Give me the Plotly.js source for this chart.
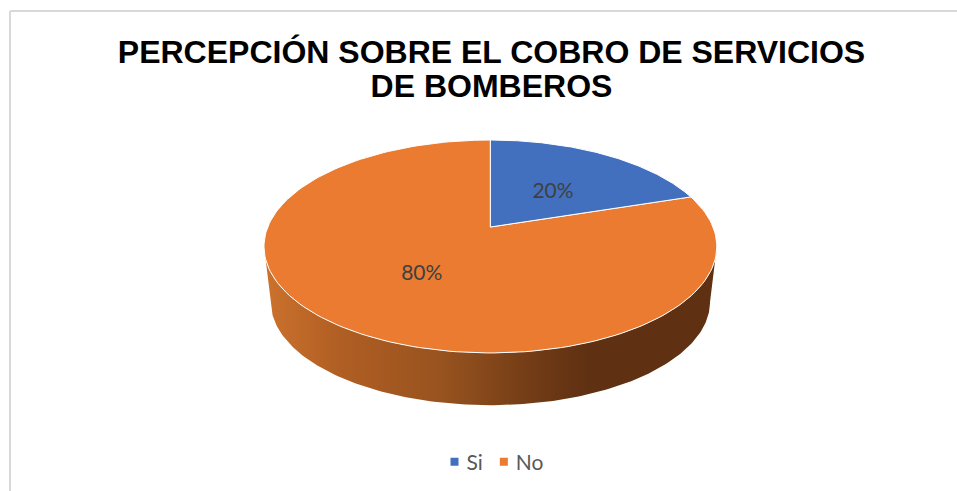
<!DOCTYPE html>
<html>
<head>
<meta charset="utf-8">
<script src="https://cdn.plot.ly/plotly-3.0.1.min.js"></script>
<style>html,body{margin:0;padding:0;background:#fff}#chart{width:957px;height:491px}</style>
</head>
<body>
<div id="chart"></div>
<script>
var titleText = 'PERCEPCIÓN SOBRE EL COBRO DE SERVICIOS<br>DE BOMBEROS';
var categories = ['Si', 'No'];
var values = [20, 80];
var sliceColors = ['#4270BF', '#EB7B31'];
var labelNudgeX = [4, -1];
var labelNudgeY = [3, 5];

// Perspective view of a tilted disc: top face and the slightly smaller bottom face
var view = {cx: 490.4, cy: 227, a: 222.6, b: 102.9, k: 0.183};
var depth = {scale: 0.97, cy: 283};
function project(theta, r, bottom) {
  var u = r * Math.sin(theta), v = r * Math.cos(theta);
  var w = 1 + view.k * v, s = bottom ? depth.scale : 1, cy = bottom ? depth.cy : view.cy;
  return [view.cx + s * view.a * u / w, cy - s * view.b * v / w];
}
function arc(from, to, bottom) {
  var pts = [], n = 180;
  for (var i = 0; i <= n; i++) pts.push(project(from + (to - from) * i / n, 1, bottom));
  return pts;
}
var total = values.reduce(function (a, b) { return a + b; }, 0);
var angle = 0, sliceTraces = [], labelX = [], labelY = [], labelText = [];
values.forEach(function (val, i) {
  var sweep = 2 * Math.PI * val / total;
  var pts = [project(0, 0)].concat(arc(angle, angle + sweep)).concat([project(0, 0)]);
  sliceTraces.push({
    type: 'scatter', mode: 'lines', fill: 'toself', fillcolor: sliceColors[i],
    x: pts.map(function (p) { return p[0]; }), y: pts.map(function (p) { return p[1]; }),
    line: {color: '#ffffff', width: 1}, showlegend: false, hoverinfo: 'skip'
  });
  var m = project(angle + sweep / 2, 0.48);
  labelX.push(m[0] + labelNudgeX[i]); labelY.push(m[1] + labelNudgeY[i]);
  labelText.push(val + '%');
  angle += sweep;
});

// Visible side wall: front half of the rim
var wStart = Math.PI * 0.5 + Math.asin(view.k), wEnd = Math.PI * 1.5 - Math.asin(view.k);
var wallPts = arc(wStart, wEnd).concat(arc(wEnd, wStart, true));
var wall = {
  type: 'scatter', mode: 'lines', fill: 'toself',
  x: wallPts.map(function (p) { return p[0]; }), y: wallPts.map(function (p) { return p[1]; }),
  line: {width: 0, color: 'rgba(0,0,0,0)'},
  fillgradient: {type: 'horizontal', colorscale: [
    [0, '#CC722D'], [0.17, '#B05E23'], [0.39, '#98531F'], [0.61, '#6F3A15'], [0.72, '#5F3012'], [1, '#5F3012']
  ]},
  showlegend: false, hoverinfo: 'skip'
};

var labels = {
  type: 'scatter', mode: 'text', x: labelX, y: labelY, text: labelText,
  textposition: 'middle center', textfont: {family: 'Lato, sans-serif', size: 21, color: '#404040'},
  showlegend: false, hoverinfo: 'skip'
};
var legendTraces = categories.map(function (c, i) {
  return {type: 'scatter', mode: 'markers', x: [-100], y: [-100], name: c,
    marker: {symbol: 'square', size: 8, color: sliceColors[i]}};
});

var layout = {
  width: 957, height: 491, margin: {l: 0, r: 0, t: 0, b: 0},
  paper_bgcolor: '#ffffff', plot_bgcolor: '#ffffff',
  title: {text: titleText, x: 491.5 / 957, xanchor: 'center', y: 1 - 63 / 491, yanchor: 'middle',
    font: {family: 'Liberation Sans, Arial, sans-serif', size: 32, color: '#000000', weight: 'bold'}},
  xaxis: {visible: false, range: [0, 957], fixedrange: true},
  yaxis: {visible: false, range: [491, 0], fixedrange: true},
  showlegend: true,
  legend: {orientation: 'h', x: 494 / 957, xanchor: 'center', y: 29 / 491, yanchor: 'middle',
    font: {family: 'Lato, sans-serif', size: 21, color: '#595959'}, bgcolor: 'rgba(0,0,0,0)'},
  shapes: [
    {type: 'line', xref: 'x', yref: 'y', x0: 10, x1: 10, y0: 11, y1: 491, line: {color: '#D9D9D9', width: 2}},
    {type: 'line', xref: 'x', yref: 'y', x0: 10, x1: 957, y0: 11, y1: 11, line: {color: '#D9D9D9', width: 2}}
  ]
};

Plotly.newPlot('chart', [wall, sliceTraces[1], sliceTraces[0], labels].concat(legendTraces), layout,
  {displayModeBar: false, staticPlot: true}).then(function () {
    document.querySelectorAll('.gtitle tspan.line').forEach(function (t, i) {
      t.setAttribute('dy', (i * 1.07) + 'em');
    });
    document.querySelectorAll('.legend .legendpoints').forEach(function (g) {
      g.setAttribute('transform', 'translate(8,0)');
    });
    var entries = document.querySelectorAll('.legend g.traces');
    if (entries[1]) {
      var m = /translate\(([-\d.]+),\s*([-\d.]+)\)/.exec(entries[1].getAttribute('transform'));
      if (m) entries[1].setAttribute('transform', 'translate(' + (parseFloat(m[1]) - 12) + ',' + m[2] + ')');
    }
  });
</script>
</body>
</html>
